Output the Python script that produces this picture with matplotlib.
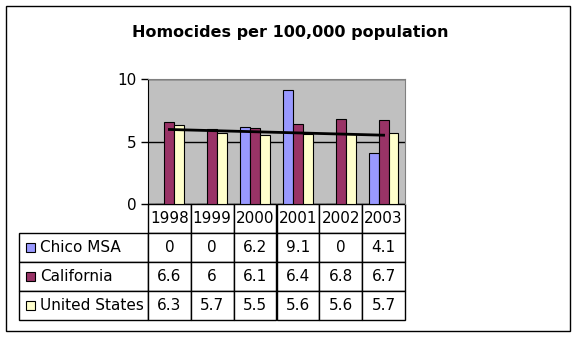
import numpy as np
import matplotlib
matplotlib.use("Agg")
import matplotlib.pyplot as plt
from matplotlib.patches import Rectangle
from matplotlib.table import Table

# ----------------------------- data ----------------------------- #
years = ["1998", "1999", "2000", "2001", "2002", "2003"]
series_names = ["Chico MSA", "California", "United States"]
chico = [0, 0, 6.2, 9.1, 0, 4.1]
california = [6.6, 6, 6.1, 6.4, 6.8, 6.7]
united_states = [6.3, 5.7, 5.5, 5.6, 5.6, 5.7]
colors = ["#9999FF", "#993366", "#FFFFCC"]
y_ticks = [0, 5, 10]

W, H = 576, 338
plt.rcParams["font.family"] = "DejaVu Sans"

fig = plt.figure(figsize=(W / 100, H / 100), dpi=100)
fig.patch.set_facecolor("white")

# outer frame of the chart
fig.add_artist(Rectangle((6 / W, 1 - 331 / H), 564 / W, 325 / H,
                         transform=fig.transFigure, fill=False,
                         edgecolor="black", linewidth=1))

fig.text(290 / W, 1 - 32 / H, "Homocides per 100,000 population",
         ha="center", va="center", fontsize=11.5, fontweight="bold")

# plot area in pixel terms
left, top, right, bottom = 148, 79, 405, 204
pw, ph = right - left, bottom - top
ax = fig.add_axes([left / W, 1 - bottom / H, pw / W, ph / H])
ax.set_facecolor("#C0C0C0")

x = np.arange(len(years))
bw = 0.23
values = [chico, california, united_states]
for i, (vals, c) in enumerate(zip(values, colors)):
    ax.bar(x + (i - 1) * bw, vals, width=bw, color=c, edgecolor="black",
           linewidth=0.8, zorder=3)

# linear trend of the United States series
coef = np.polyfit(x, united_states, 1)
ax.plot(x, np.polyval(coef, x), color="black", linewidth=2, zorder=4)

ax.set_xlim(-0.5, len(years) - 0.5)
ax.set_ylim(0, 10)
ax.set_yticks(y_ticks)
ax.set_xticks([])
ax.tick_params(axis="y", labelsize=11, length=5, width=1, pad=3)
ax.yaxis.grid(True, color="black", linewidth=1, zorder=1)
ax.set_axisbelow(True)
ax.spines["bottom"].set_visible(False)
ax.spines["top"].set_color("#808080")
ax.spines["right"].set_color("#808080")
ax.spines["left"].set_color("black")

# data table under the plot area (cell sizes in axes units)
label_w = (left - 19) / pw
col_w = 1 / len(years)
row_h = 29 / ph
tbl = Table(ax, loc="bottom")
for j, yr in enumerate(years):
    tbl.add_cell(0, j, width=col_w, height=row_h, text=yr, loc="center")
for i, name in enumerate(series_names):
    cell = tbl.add_cell(i + 1, -1, width=label_w, height=row_h, text=name, loc="left")
    cell.PAD = 0.16
    for j, v in enumerate(values[i]):
        tbl.add_cell(i + 1, j, width=col_w, height=row_h, text=f"{v:g}", loc="center")
tbl.auto_set_font_size(False)
tbl.set_fontsize(11)
for cell in tbl.get_celld().values():
    cell.set_linewidth(1)
    cell.set_edgecolor("black")
ax.add_table(tbl)
tbl.set_clip_on(False)

# legend keys inside the row label cells
for i, c in enumerate(colors):
    yc = bottom + 29 * (i + 1.5)
    fig.add_artist(Rectangle((26 / W, 1 - (yc + 4.5) / H), 9 / W, 9 / H,
                             transform=fig.transFigure, facecolor=c,
                             edgecolor="black", linewidth=0.8))

fig.savefig("out.png", dpi=100)
